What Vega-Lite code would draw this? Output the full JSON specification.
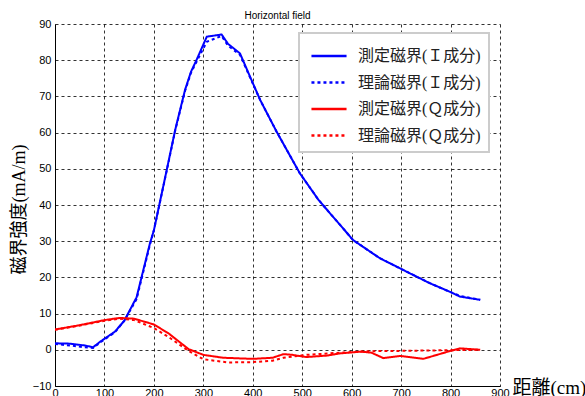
{
  "$schema": "https://vega.github.io/schema/vega-lite/v6.json",
  "autosize": {"type": "none"},
  "width": 445,
  "height": 362,
  "padding": {"left": 55, "top": 24, "right": 85, "bottom": 10},
  "background": "white",
  "title": {"text": "Horizontal field", "fontSize": 10, "font": "Liberation Sans", "fontWeight": "normal", "color": "black", "offset": -3, "anchor": "middle"},
  "config": {"view": {"stroke": null, "fill": "white"}},
  "data": {"values": [
    {"d": 0, "v": 1.8, "s": "測定磁界(Ｉ成分)"},
    {"d": 30, "v": 1.7, "s": "測定磁界(Ｉ成分)"},
    {"d": 60, "v": 1.2, "s": "測定磁界(Ｉ成分)"},
    {"d": 77, "v": 0.7, "s": "測定磁界(Ｉ成分)"},
    {"d": 91, "v": 2.2, "s": "測定磁界(Ｉ成分)"},
    {"d": 121, "v": 5.0, "s": "測定磁界(Ｉ成分)"},
    {"d": 140, "v": 8.0, "s": "測定磁界(Ｉ成分)"},
    {"d": 165, "v": 14.5, "s": "測定磁界(Ｉ成分)"},
    {"d": 192, "v": 29.4, "s": "測定磁界(Ｉ成分)"},
    {"d": 200, "v": 33, "s": "測定磁界(Ｉ成分)"},
    {"d": 226, "v": 49.7, "s": "測定磁界(Ｉ成分)"},
    {"d": 243, "v": 60.7, "s": "測定磁界(Ｉ成分)"},
    {"d": 263, "v": 71.8, "s": "測定磁界(Ｉ成分)"},
    {"d": 275, "v": 76.8, "s": "測定磁界(Ｉ成分)"},
    {"d": 286, "v": 80, "s": "測定磁界(Ｉ成分)"},
    {"d": 307, "v": 86.5, "s": "測定磁界(Ｉ成分)"},
    {"d": 337, "v": 87.1, "s": "測定磁界(Ｉ成分)"},
    {"d": 350, "v": 84.5, "s": "測定磁界(Ｉ成分)"},
    {"d": 374, "v": 81.9, "s": "測定磁界(Ｉ成分)"},
    {"d": 415, "v": 69, "s": "測定磁界(Ｉ成分)"},
    {"d": 448, "v": 60.3, "s": "測定磁界(Ｉ成分)"},
    {"d": 495, "v": 48.8, "s": "測定磁界(Ｉ成分)"},
    {"d": 533, "v": 41.4, "s": "測定磁界(Ｉ成分)"},
    {"d": 603, "v": 30.3, "s": "測定磁界(Ｉ成分)"},
    {"d": 657, "v": 25.3, "s": "測定磁界(Ｉ成分)"},
    {"d": 705, "v": 22.0, "s": "測定磁界(Ｉ成分)"},
    {"d": 758, "v": 18.4, "s": "測定磁界(Ｉ成分)"},
    {"d": 799, "v": 16.0, "s": "測定磁界(Ｉ成分)"},
    {"d": 819, "v": 14.7, "s": "測定磁界(Ｉ成分)"},
    {"d": 860, "v": 13.8, "s": "測定磁界(Ｉ成分)"},

    {"d": 0, "v": 1.6, "s": "理論磁界(Ｉ成分)"},
    {"d": 30, "v": 1.2, "s": "理論磁界(Ｉ成分)"},
    {"d": 60, "v": 0.7, "s": "理論磁界(Ｉ成分)"},
    {"d": 77, "v": 0.5, "s": "理論磁界(Ｉ成分)"},
    {"d": 91, "v": 2.0, "s": "理論磁界(Ｉ成分)"},
    {"d": 121, "v": 4.8, "s": "理論磁界(Ｉ成分)"},
    {"d": 140, "v": 8.0, "s": "理論磁界(Ｉ成分)"},
    {"d": 165, "v": 14.0, "s": "理論磁界(Ｉ成分)"},
    {"d": 192, "v": 29.0, "s": "理論磁界(Ｉ成分)"},
    {"d": 200, "v": 33, "s": "理論磁界(Ｉ成分)"},
    {"d": 226, "v": 49.5, "s": "理論磁界(Ｉ成分)"},
    {"d": 243, "v": 60.5, "s": "理論磁界(Ｉ成分)"},
    {"d": 263, "v": 71.5, "s": "理論磁界(Ｉ成分)"},
    {"d": 275, "v": 76.5, "s": "理論磁界(Ｉ成分)"},
    {"d": 286, "v": 79.5, "s": "理論磁界(Ｉ成分)"},
    {"d": 307, "v": 85.1, "s": "理論磁界(Ｉ成分)"},
    {"d": 337, "v": 86.7, "s": "理論磁界(Ｉ成分)"},
    {"d": 350, "v": 84.0, "s": "理論磁界(Ｉ成分)"},
    {"d": 374, "v": 81.5, "s": "理論磁界(Ｉ成分)"},
    {"d": 415, "v": 69, "s": "理論磁界(Ｉ成分)"},
    {"d": 448, "v": 60.3, "s": "理論磁界(Ｉ成分)"},
    {"d": 495, "v": 48.8, "s": "理論磁界(Ｉ成分)"},
    {"d": 533, "v": 41.4, "s": "理論磁界(Ｉ成分)"},
    {"d": 603, "v": 30.3, "s": "理論磁界(Ｉ成分)"},
    {"d": 657, "v": 25.3, "s": "理論磁界(Ｉ成分)"},
    {"d": 705, "v": 22.0, "s": "理論磁界(Ｉ成分)"},
    {"d": 758, "v": 18.4, "s": "理論磁界(Ｉ成分)"},
    {"d": 799, "v": 16.0, "s": "理論磁界(Ｉ成分)"},
    {"d": 819, "v": 14.9, "s": "理論磁界(Ｉ成分)"},
    {"d": 860, "v": 13.8, "s": "理論磁界(Ｉ成分)"},

    {"d": 0, "v": 5.6, "s": "測定磁界(Ｑ成分)"},
    {"d": 50, "v": 6.8, "s": "測定磁界(Ｑ成分)"},
    {"d": 100, "v": 8.2, "s": "測定磁界(Ｑ成分)"},
    {"d": 130, "v": 8.8, "s": "測定磁界(Ｑ成分)"},
    {"d": 160, "v": 8.6, "s": "測定磁界(Ｑ成分)"},
    {"d": 200, "v": 7.0, "s": "測定磁界(Ｑ成分)"},
    {"d": 230, "v": 4.5, "s": "測定磁界(Ｑ成分)"},
    {"d": 270, "v": 0.2, "s": "測定磁界(Ｑ成分)"},
    {"d": 300, "v": -1.4, "s": "測定磁界(Ｑ成分)"},
    {"d": 340, "v": -2.2, "s": "測定磁界(Ｑ成分)"},
    {"d": 400, "v": -2.5, "s": "測定磁界(Ｑ成分)"},
    {"d": 440, "v": -2.2, "s": "測定磁界(Ｑ成分)"},
    {"d": 462, "v": -1.2, "s": "測定磁界(Ｑ成分)"},
    {"d": 480, "v": -1.4, "s": "測定磁界(Ｑ成分)"},
    {"d": 508, "v": -2.0, "s": "測定磁界(Ｑ成分)"},
    {"d": 550, "v": -1.6, "s": "測定磁界(Ｑ成分)"},
    {"d": 576, "v": -1.0, "s": "測定磁界(Ｑ成分)"},
    {"d": 619, "v": -0.5, "s": "測定磁界(Ｑ成分)"},
    {"d": 640, "v": -0.8, "s": "測定磁界(Ｑ成分)"},
    {"d": 664, "v": -2.3, "s": "測定磁界(Ｑ成分)"},
    {"d": 698, "v": -1.7, "s": "測定磁界(Ｑ成分)"},
    {"d": 745, "v": -2.5, "s": "測定磁界(Ｑ成分)"},
    {"d": 800, "v": -0.3, "s": "測定磁界(Ｑ成分)"},
    {"d": 819, "v": 0.4, "s": "測定磁界(Ｑ成分)"},
    {"d": 840, "v": 0.2, "s": "測定磁界(Ｑ成分)"},
    {"d": 860, "v": 0.0, "s": "測定磁界(Ｑ成分)"},

    {"d": 0, "v": 5.5, "s": "理論磁界(Ｑ成分)"},
    {"d": 50, "v": 6.7, "s": "理論磁界(Ｑ成分)"},
    {"d": 100, "v": 8.0, "s": "理論磁界(Ｑ成分)"},
    {"d": 130, "v": 8.6, "s": "理論磁界(Ｑ成分)"},
    {"d": 160, "v": 8.2, "s": "理論磁界(Ｑ成分)"},
    {"d": 200, "v": 6.0, "s": "理論磁界(Ｑ成分)"},
    {"d": 230, "v": 3.5, "s": "理論磁界(Ｑ成分)"},
    {"d": 270, "v": -0.3, "s": "理論磁界(Ｑ成分)"},
    {"d": 300, "v": -2.6, "s": "理論磁界(Ｑ成分)"},
    {"d": 350, "v": -3.5, "s": "理論磁界(Ｑ成分)"},
    {"d": 400, "v": -3.4, "s": "理論磁界(Ｑ成分)"},
    {"d": 440, "v": -3.0, "s": "理論磁界(Ｑ成分)"},
    {"d": 462, "v": -2.2, "s": "理論磁界(Ｑ成分)"},
    {"d": 508, "v": -1.4, "s": "理論磁界(Ｑ成分)"},
    {"d": 576, "v": -0.8, "s": "理論磁界(Ｑ成分)"},
    {"d": 620, "v": -0.5, "s": "理論磁界(Ｑ成分)"},
    {"d": 664, "v": -0.3, "s": "理論磁界(Ｑ成分)"},
    {"d": 700, "v": -0.3, "s": "理論磁界(Ｑ成分)"},
    {"d": 800, "v": -0.1, "s": "理論磁界(Ｑ成分)"},
    {"d": 860, "v": 0.0, "s": "理論磁界(Ｑ成分)"}
  ]},
  "mark": {"type": "line", "strokeWidth": 2, "clip": true},
  "encoding": {
    "x": {
      "field": "d", "type": "quantitative",
      "scale": {"domain": [0, 900], "nice": false, "zero": false},
      "axis": {
        "values": [0, 100, 200, 300, 400, 500, 600, 700, 800, 900],
        "title": "距離(cm)",
        "titleFont": "Liberation Serif, Noto Sans CJK JP",
        "titleFontSize": 19, "titleFontWeight": "normal", "titleColor": "black",
        "titleAlign": "left", "titleBaseline": "alphabetic",
        "titleX": 457, "titleY": 7, "titleAngle": 0,
        "labelFont": "Liberation Sans", "labelFontSize": 11, "labelColor": "black",
        "labelPadding": 1, "labelFlush": false,
        "tickSize": 0, "domainColor": "black", "domainWidth": 1,
        "grid": true, "gridColor": "black", "gridDash": [3, 3], "gridOpacity": 0.8, "gridWidth": 1
      }
    },
    "y": {
      "field": "v", "type": "quantitative",
      "scale": {"domain": [-10, 90], "nice": false, "zero": false},
      "axis": {
        "values": [-10, 0, 10, 20, 30, 40, 50, 60, 70, 80, 90],
        "title": "磁界強度(mA/m)",
        "titleFont": "Liberation Serif, Noto Sans CJK JP",
        "titleFontSize": 18, "titleFontWeight": "normal", "titleColor": "black",
        "titleAngle": -90, "titleAlign": "center", "titleBaseline": "middle",
        "titleX": -36, "titleY": 185,
        "labelFont": "Liberation Sans", "labelFontSize": 11, "labelColor": "black",
        "labelPadding": 4, "labelFlush": false,
        "tickSize": 0, "domainColor": "black", "domainWidth": 1,
        "grid": true, "gridColor": "black", "gridDash": [3, 3], "gridOpacity": 0.8, "gridWidth": 1
      }
    },
    "color": {
      "field": "s", "type": "nominal",
      "scale": {
        "domain": ["測定磁界(Ｉ成分)", "理論磁界(Ｉ成分)", "測定磁界(Ｑ成分)", "理論磁界(Ｑ成分)"],
        "range": ["#0000ff", "#0000ff", "#ff0000", "#ff0000"]
      },
      "legend": {
        "title": null,
        "orient": "none", "legendX": 244, "legendY": 9,
        "fillColor": "white", "strokeColor": "#cccccc",
        "padding": 8,
        "symbolType": "M-1.3,0H1.3", "symbolSize": 729, "symbolStrokeWidth": 2.5, "symbolOffset": 7,
        "labelFont": "Liberation Serif, Noto Sans CJK JP", "labelFontSize": 16, "labelColor": "#222222",
        "labelOffset": 14, "rowPadding": 3.5, "labelLimit": 300,
        "encode": {"legend": {"update": {"strokeWidth": {"value": 2}}}}
      }
    },
    "strokeDash": {
      "field": "s", "type": "nominal",
      "scale": {
        "domain": ["測定磁界(Ｉ成分)", "理論磁界(Ｉ成分)", "測定磁界(Ｑ成分)", "理論磁界(Ｑ成分)"],
        "range": [[1, 0], [3, 3], [1, 0], [3, 3]]
      },
      "legend": {
        "title": null,
        "orient": "none", "legendX": 244, "legendY": 9,
        "fillColor": "white", "strokeColor": "#cccccc",
        "padding": 8,
        "symbolType": "M-1.3,0H1.3", "symbolSize": 729, "symbolStrokeWidth": 2.5, "symbolOffset": 7,
        "labelFont": "Liberation Serif, Noto Sans CJK JP", "labelFontSize": 16, "labelColor": "#222222",
        "labelOffset": 14, "rowPadding": 3.5, "labelLimit": 300,
        "encode": {"legend": {"update": {"strokeWidth": {"value": 2}}}}
      }
    }
  }
}
